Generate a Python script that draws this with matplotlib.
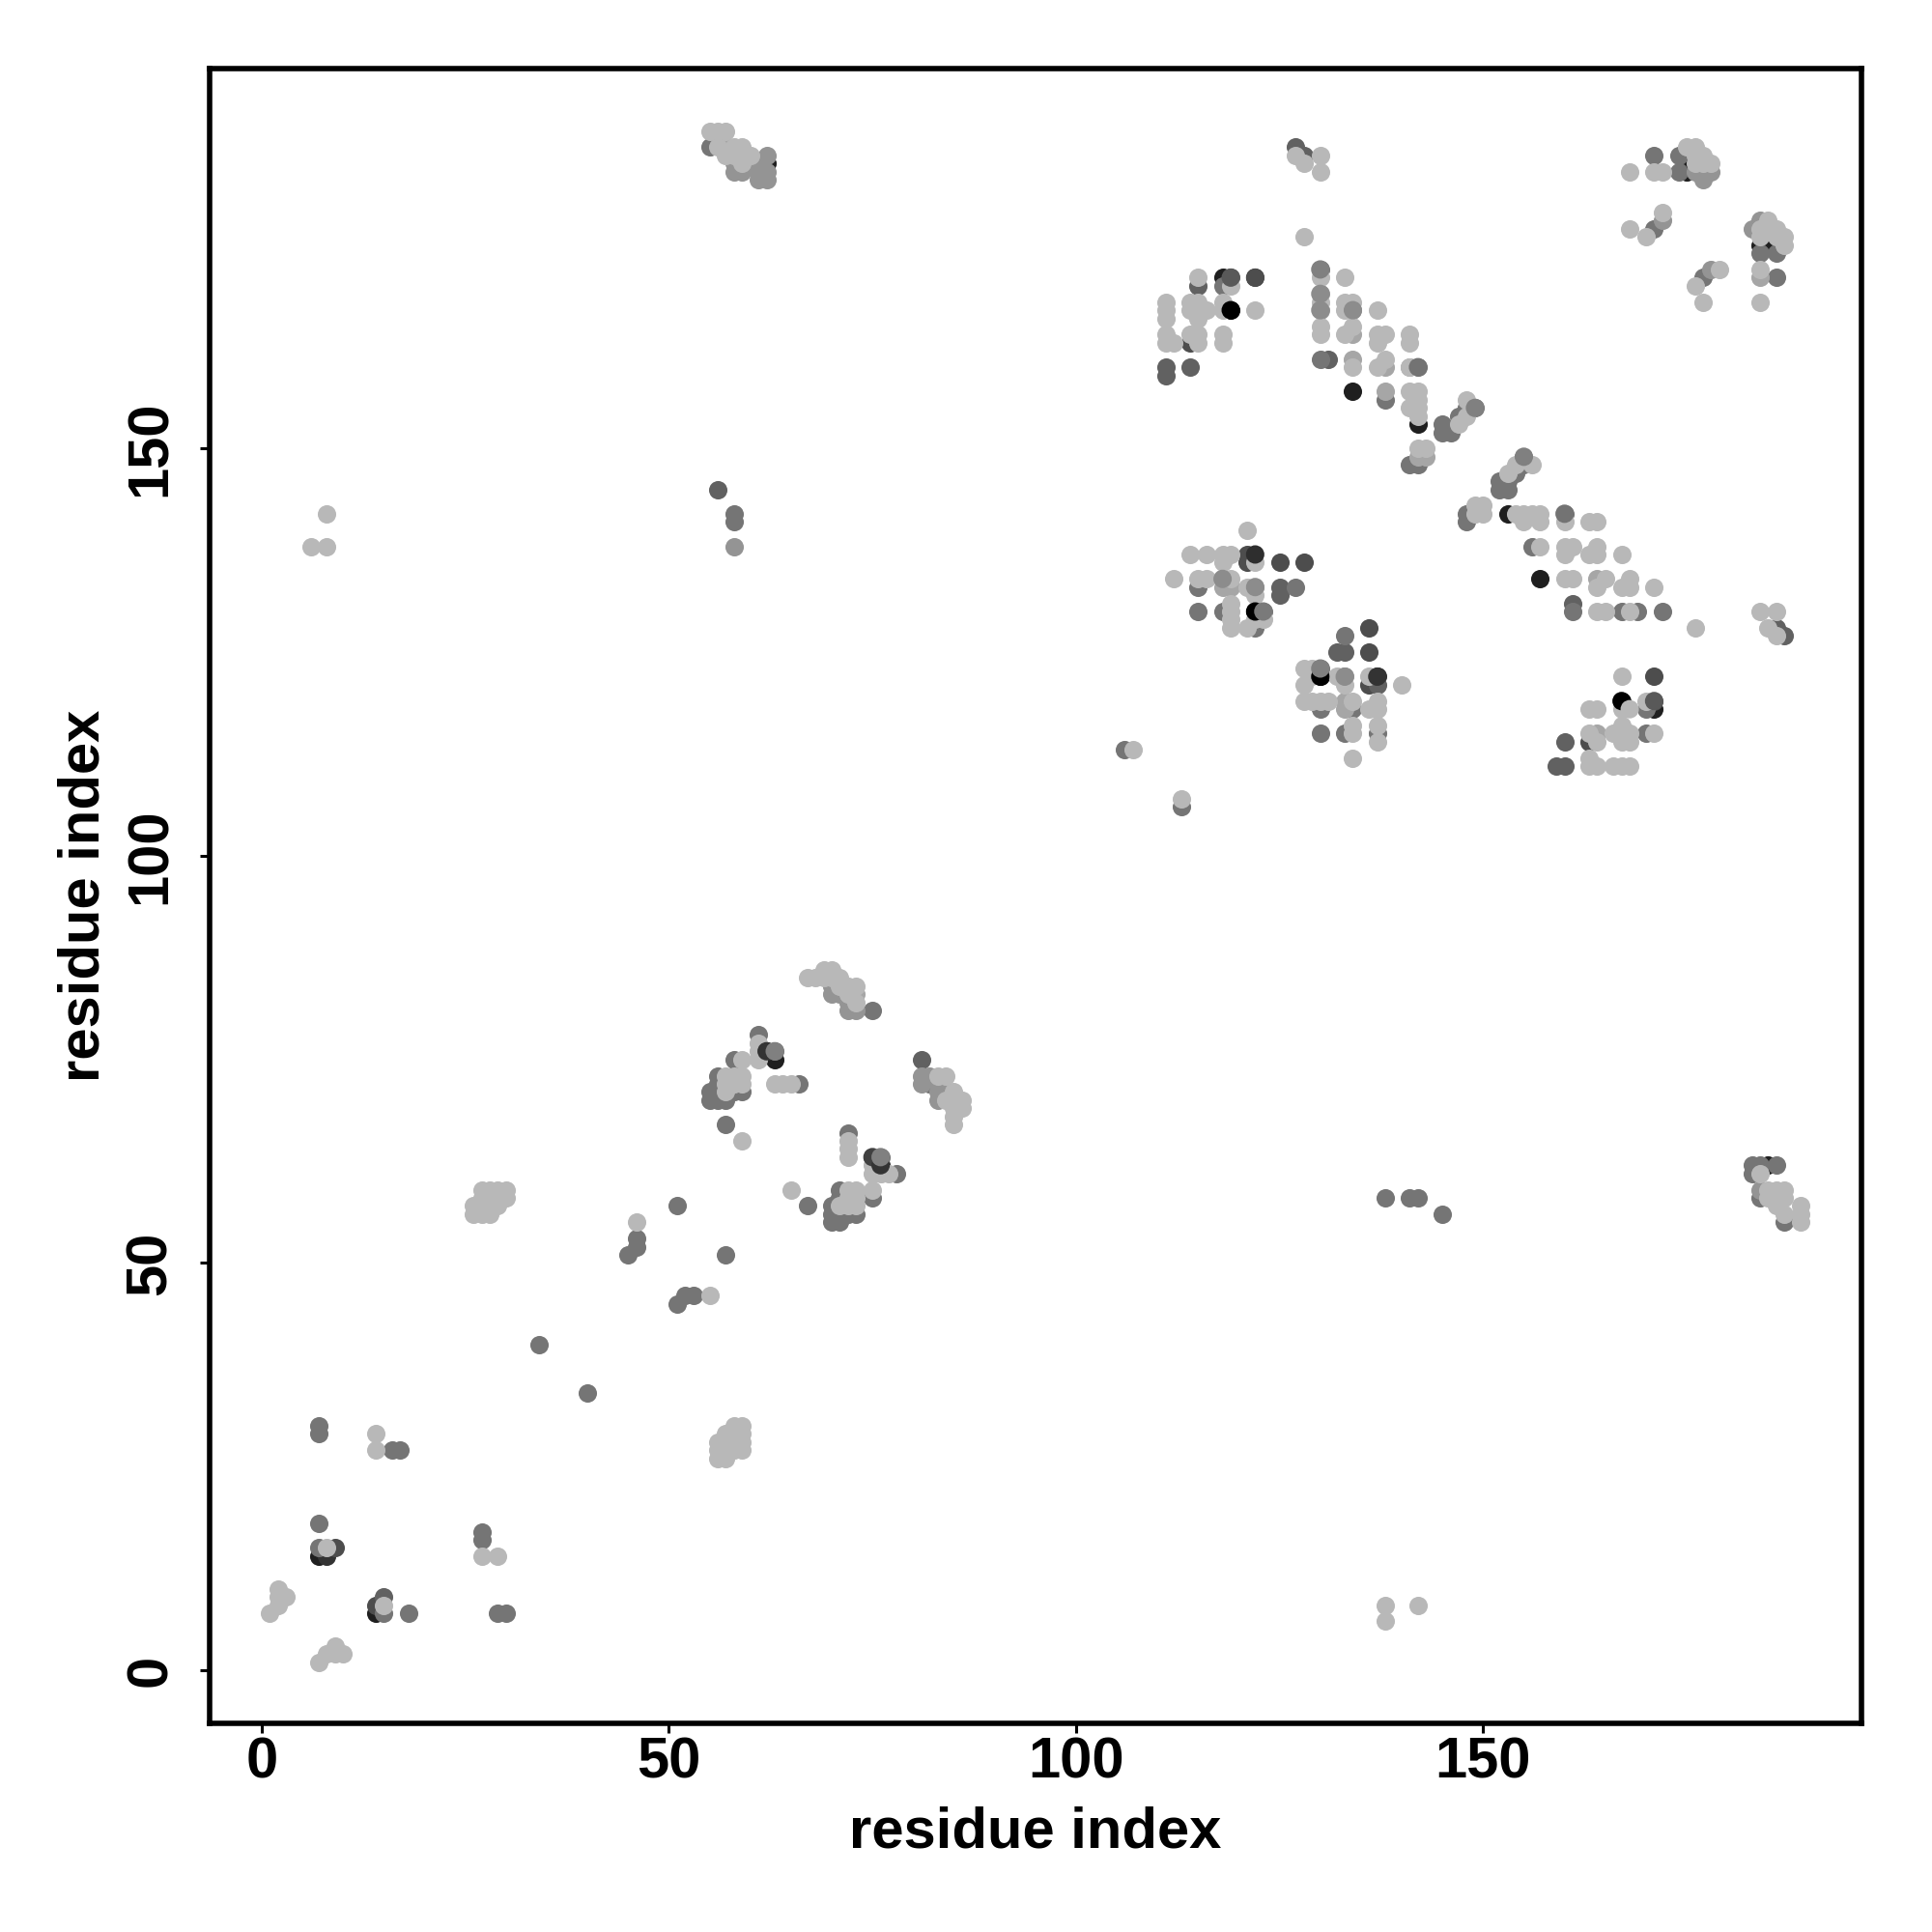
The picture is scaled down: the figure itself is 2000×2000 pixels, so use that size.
import matplotlib
matplotlib.use('Agg')
import matplotlib.pyplot as plt

plt.rcParams['font.family'] = ['Liberation Sans', 'DejaVu Sans']

# contacts as (residue, residue), one list per grey level, darkest first
black = [(119, 167), (167, 119), (122, 130), (130, 122)]
near_black = [(118, 171), (134, 157), (142, 153), (153, 142), (157, 134), (171, 118), (175, 186), (175, 184),
              (184, 175), (186, 175), (62, 185), (7, 14), (14, 7), (185, 62), (63, 75)]
very_dark = [(137, 122), (62, 76), (75, 63), (76, 62), (8, 14)]
dark = [(122, 171), (121, 137), (125, 136), (128, 136), (136, 128), (136, 125), (136, 121), (171, 122),
        (163, 114), (171, 119), (114, 163), (14, 8), (9, 15), (121, 136)]
dark_mid = [(111, 160), (111, 159), (114, 160), (131, 161), (125, 133), (125, 132), (132, 125), (133, 125),
            (160, 114), (159, 111), (160, 111), (161, 131), (137, 121), (81, 75), (15, 9), (119, 171), (115, 170),
            (187, 127), (186, 128), (127, 187), (128, 186), (56, 145)]
mid = [(118, 170), (130, 161), (142, 160), (148, 142), (148, 141), (145, 153), (145, 152), (146, 152),
       (147, 154), (148, 155), (149, 155), (152, 146), (153, 146), (152, 145), (153, 145), (154, 147),
       (155, 149), (155, 148), (141, 148), (142, 148), (161, 130), (115, 133), (115, 130), (118, 130),
       (127, 133), (122, 128), (133, 127), (130, 118), (130, 115), (133, 115), (170, 118), (170, 115),
       (156, 138), (55, 187), (75, 81), (61, 78), (58, 75), (56, 73), (56, 72), (55, 71), (55, 70), (56, 71),
       (56, 70), (57, 70), (58, 71), (59, 71), (57, 67), (66, 72), (72, 66), (78, 61), (75, 58), (67, 57),
       (51, 57), (57, 51), (71, 59), (71, 58), (70, 57), (70, 56), (71, 56), (72, 56), (73, 56), (70, 55),
       (71, 55), (46, 53), (46, 52), (45, 51), (51, 45), (52, 46), (53, 46), (34, 40), (40, 34), (7, 30),
       (7, 29), (16, 27), (17, 27), (7, 18), (7, 15), (27, 17), (27, 16), (29, 7), (30, 7), (15, 7), (18, 7),
       (138, 58), (141, 58), (142, 58), (145, 56), (183, 62), (184, 62), (186, 62), (183, 61), (184, 58),
       (187, 55), (106, 113), (113, 106), (186, 174), (184, 174), (186, 171), (171, 186), (174, 186), (174, 184),
       (171, 177), (177, 171), (58, 142), (58, 141), (138, 156), (130, 172), (160, 142), (167, 130), (169, 130),
       (172, 130), (137, 115), (134, 118), (123, 130), (130, 123), (63, 76), (76, 63), (82, 72)]
mid_light = [(130, 169), (130, 167), (134, 167), (118, 134), (122, 133), (133, 122), (58, 138), (58, 185),
             (58, 184), (59, 184), (62, 186), (61, 183), (62, 183), (62, 184), (61, 184), (61, 185), (183, 177),
             (184, 178), (178, 172), (172, 178), (177, 183), (177, 184), (178, 184), (176, 184), (184, 59),
             (81, 73), (81, 72), (82, 73), (83, 72), (83, 71), (83, 70), (84, 71), (70, 84), (70, 83), (71, 83),
             (72, 82), (72, 81), (73, 81)]
pale = [(134, 164), (138, 157), (141, 160), (134, 161), (138, 160), (142, 149), (143, 149), (118, 133),
        (119, 133), (133, 118), (133, 119), (164, 134), (164, 115), (184, 171), (57, 187), (72, 83), (73, 83)]
light = [(115, 171), (119, 170), (111, 168), (111, 167), (111, 166), (111, 164), (111, 163), (112, 163), (114, 168),
         (114, 167), (115, 168), (115, 167), (115, 166), (116, 167), (118, 168), (118, 167), (122, 167), (114, 164),
         (115, 164), (115, 163), (118, 164), (118, 163), (130, 171), (130, 168), (130, 165), (130, 164), (133, 171),
         (133, 168), (134, 168), (133, 167), (137, 167), (134, 165), (133, 164), (137, 164), (138, 164), (137, 163),
         (141, 164), (141, 163), (134, 160), (138, 161), (137, 160), (141, 160), (141, 157), (142, 157), (142, 156),
         (141, 155), (142, 155), (142, 154), (147, 153), (148, 154), (148, 156), (142, 150), (143, 150), (154, 148),
         (156, 148), (153, 147), (149, 143), (149, 142), (150, 143), (150, 142), (154, 142), (155, 142), (156, 142),
         (157, 142), (155, 141), (157, 141), (160, 141), (163, 141), (164, 141), (157, 138), (160, 138), (161, 138),
         (160, 137), (163, 137), (164, 137), (164, 138), (167, 137), (160, 134), (161, 134), (165, 134), (164, 133),
         (168, 134), (167, 133), (168, 133), (164, 130), (165, 130), (168, 130), (171, 133), (176, 128), (121, 140),
         (114, 137), (116, 137), (118, 137), (119, 137), (118, 136), (122, 136), (112, 134), (115, 134), (116, 134),
         (119, 134), (121, 133), (122, 132), (119, 131), (119, 130), (119, 129), (119, 128), (123, 129), (122, 129),
         (121, 128), (128, 123), (129, 123), (128, 121), (129, 122), (132, 122), (133, 121), (136, 122), (140, 121),
         (128, 119), (129, 119), (130, 119), (131, 119), (134, 119), (136, 118), (137, 119), (137, 118), (134, 116),
         (134, 115), (137, 116), (137, 114), (134, 112), (167, 122), (167, 118), (170, 119), (163, 118),
         (164, 118), (163, 115), (164, 114), (163, 112), (163, 111), (164, 111), (166, 111), (167, 111), (168, 111),
         (166, 115), (167, 116), (167, 115), (168, 115), (167, 114), (168, 114), (171, 115), (107, 113), (113, 107),
         (184, 130), (186, 130), (185, 128), (186, 127), (168, 184), (171, 184), (172, 184), (175, 187), (176, 187),
         (176, 186), (177, 186), (176, 185), (177, 185), (178, 185), (168, 177), (170, 176), (172, 179), (176, 170),
         (179, 172), (177, 168), (184, 172), (184, 168), (185, 178), (184, 177), (185, 177), (186, 177), (184, 176),
         (186, 176), (187, 176), (187, 175), (127, 186), (128, 185), (130, 186), (130, 184), (128, 176), (55, 189),
         (56, 189), (57, 189), (56, 187), (58, 187), (58, 186), (59, 187), (59, 186), (60, 186), (57, 186), (59, 185),
         (8, 142), (6, 138), (8, 138), (67, 85), (68, 85), (69, 86), (70, 86), (69, 85), (70, 85), (71, 85), (71, 84),
         (72, 84), (73, 84), (72, 83), (73, 82), (61, 77), (61, 76), (61, 75), (59, 75), (57, 73), (57, 72), (57, 71),
         (58, 73), (58, 72), (59, 73), (59, 72), (59, 65), (63, 72), (64, 72), (65, 72), (83, 73), (84, 73), (85, 71),
         (84, 70), (85, 70), (86, 70), (86, 69), (85, 69), (85, 68), (85, 67), (72, 65), (72, 64), (72, 63), (75, 62),
         (75, 61), (76, 61), (77, 61), (75, 59), (65, 59), (72, 59), (73, 59), (72, 58), (73, 58), (71, 57), (72, 57),
         (73, 57), (26, 56), (27, 56), (28, 56), (26, 57), (27, 57), (28, 57), (29, 57), (27, 58), (28, 58), (29, 58),
         (30, 58), (27, 59), (28, 59), (29, 59), (30, 59), (46, 55), (55, 46), (56, 26), (56, 27), (56, 28), (57, 26),
         (57, 27), (57, 28), (57, 29), (58, 27), (58, 28), (58, 29), (58, 30), (59, 27), (59, 28), (59, 29), (59, 30),
         (14, 29), (14, 27), (27, 14), (29, 14), (1, 7), (2, 8), (2, 10), (3, 9), (2, 9), (15, 8), (8, 15), (7, 1),
         (8, 2), (9, 3), (9, 2), (10, 2), (138, 8), (138, 6), (142, 8), (184, 61), (185, 59), (186, 59), (187, 59),
         (185, 58), (186, 58), (187, 58), (186, 57), (187, 56), (189, 57), (189, 56), (189, 55)]

# these sit on top of the light dots, in drawing order
over_dots = [(119, 167), (167, 119), (168, 118), (122, 130), (130, 122), (119, 171), (122, 171), (130, 172),
             (130, 169), (130, 167), (134, 167), (142, 160), (149, 155), (155, 149), (160, 142), (122, 137),
             (122, 133), (123, 130), (118, 134), (130, 123), (133, 122), (137, 122), (171, 119), (62, 76),
             (63, 76), (75, 63), (76, 62), (76, 63)]
over_shade = ['0.0', '0.0', '0.72', '0.0', '0.0', '0.35', '0.3', '0.5',
              '0.55', '0.55', '0.55', '0.45', '0.5', '0.5', '0.45', '0.18',
              '0.55', '0.48', '0.55', '0.5', '0.55', '0.2', '0.35', '0.2',
              '0.5', '0.25', '0.2', '0.5']

levels = [(black, '0.0'), (near_black, '0.12'), (very_dark, '0.2'), (dark, '0.3'), (dark_mid, '0.38'),
          (mid, '0.46'), (mid_light, '0.58'), (pale, '0.65'), (light, '0.72')]

x_ticks = [0, 50, 100, 150]
y_ticks = [0, 50, 100, 150]

fig = plt.figure(figsize=(10, 10), dpi=200)
ax = fig.add_axes([216.7 / 2000, 1 - 1784 / 2000, 1710.6 / 2000, 1713.3 / 2000])

size = 47
for pts, grey in levels:
    ax.scatter([p[0] for p in pts], [p[1] for p in pts], s=size, color=grey, linewidths=0)
ax.scatter([p[0] for p in over_dots], [p[1] for p in over_dots], s=size, c=over_shade, linewidths=0)

ax.set_xlim(-6.44, 196.5)
ax.set_ylim(-6.53, 196.7)
ax.set_xticks(x_ticks)
ax.set_yticks(y_ticks)
ax.tick_params(axis='both', width=1.1, length=3.5, labelsize=21.5)
ax.tick_params(axis='x', pad=1.5)
ax.tick_params(axis='y', pad=8.4)
for lab in ax.get_xticklabels():
    lab.set_fontweight('bold')
for lab in ax.get_yticklabels():
    lab.set_fontweight('bold')
    lab.set_rotation(90)
    lab.set_va('center')
for sp in ax.spines.values():
    sp.set_linewidth(2.0)
ax.set_xlabel('residue index', fontsize=21.5, fontweight='bold', labelpad=6)
ax.set_ylabel('residue index', fontsize=21.5, fontweight='bold', labelpad=5)

fig.savefig('out.png', dpi=200)
